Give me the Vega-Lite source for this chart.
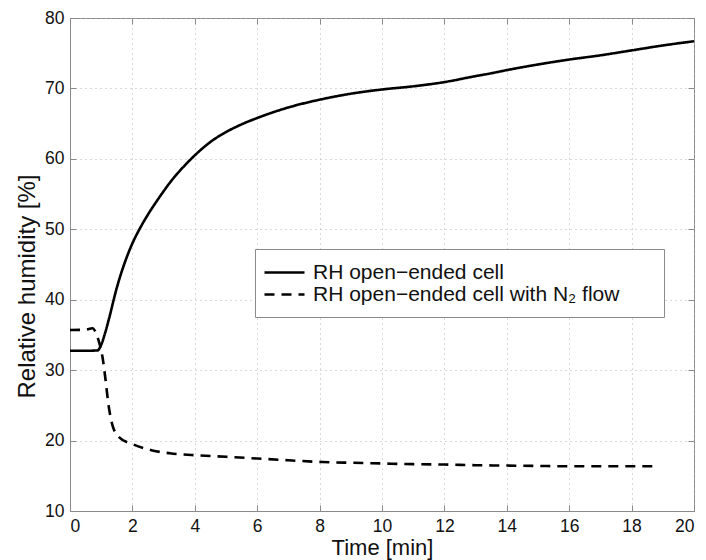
{
  "$schema": "https://vega.github.io/schema/vega-lite/v6.json",
  "width": 624,
  "height": 493,
  "autosize": "none",
  "padding": {"left": 70, "top": 18, "right": 12, "bottom": 49},
  "background": "white",
  "config": {
    "font": "Liberation Sans",
    "view": {"stroke": "#8a8a8a", "strokeWidth": 1},
    "axis": {
      "labelFont": "Liberation Sans",
      "titleFont": "Liberation Sans",
      "labelFontSize": 17.5,
      "titleFontSize": 22,
      "titleFontWeight": "normal",
      "labelColor": "#111",
      "titleColor": "#111",
      "domainColor": "#8a8a8a",
      "tickColor": "#8a8a8a",
      "tickSize": -6,
      "labelPadding": 12,
      "gridColor": "#b5b5b5",
      "gridDash": [1, 4],
      "gridWidth": 1
    }
  },
  "datasets": {
    "rh": [
      {"t": 0, "rh": 32.75, "series": "RH open−ended cell"},
      {"t": 0.5, "rh": 32.75, "series": "RH open−ended cell"},
      {"t": 0.88, "rh": 32.8, "series": "RH open−ended cell"},
      {"t": 1.0, "rh": 33.6, "series": "RH open−ended cell"},
      {"t": 1.12, "rh": 35.2, "series": "RH open−ended cell"},
      {"t": 1.25, "rh": 37.3, "series": "RH open−ended cell"},
      {"t": 1.5, "rh": 41.7, "series": "RH open−ended cell"},
      {"t": 1.75, "rh": 45.2, "series": "RH open−ended cell"},
      {"t": 2.0, "rh": 48.0, "series": "RH open−ended cell"},
      {"t": 2.25, "rh": 50.2, "series": "RH open−ended cell"},
      {"t": 2.5, "rh": 52.1, "series": "RH open−ended cell"},
      {"t": 2.75, "rh": 53.8, "series": "RH open−ended cell"},
      {"t": 3.0, "rh": 55.4, "series": "RH open−ended cell"},
      {"t": 3.25, "rh": 56.9, "series": "RH open−ended cell"},
      {"t": 3.5, "rh": 58.2, "series": "RH open−ended cell"},
      {"t": 3.75, "rh": 59.4, "series": "RH open−ended cell"},
      {"t": 4.0, "rh": 60.5, "series": "RH open−ended cell"},
      {"t": 4.25, "rh": 61.5, "series": "RH open−ended cell"},
      {"t": 4.5, "rh": 62.4, "series": "RH open−ended cell"},
      {"t": 5.0, "rh": 63.8, "series": "RH open−ended cell"},
      {"t": 5.5, "rh": 64.9, "series": "RH open−ended cell"},
      {"t": 6.0, "rh": 65.8, "series": "RH open−ended cell"},
      {"t": 7.0, "rh": 67.3, "series": "RH open−ended cell"},
      {"t": 8.0, "rh": 68.4, "series": "RH open−ended cell"},
      {"t": 9.0, "rh": 69.25, "series": "RH open−ended cell"},
      {"t": 10.0, "rh": 69.85, "series": "RH open−ended cell"},
      {"t": 11.0, "rh": 70.3, "series": "RH open−ended cell"},
      {"t": 12.0, "rh": 70.9, "series": "RH open−ended cell"},
      {"t": 13.0, "rh": 71.75, "series": "RH open−ended cell"},
      {"t": 13.5, "rh": 72.15, "series": "RH open−ended cell"},
      {"t": 14.0, "rh": 72.6, "series": "RH open−ended cell"},
      {"t": 15.0, "rh": 73.4, "series": "RH open−ended cell"},
      {"t": 16.0, "rh": 74.1, "series": "RH open−ended cell"},
      {"t": 17.0, "rh": 74.7, "series": "RH open−ended cell"},
      {"t": 18.0, "rh": 75.4, "series": "RH open−ended cell"},
      {"t": 19.0, "rh": 76.1, "series": "RH open−ended cell"},
      {"t": 20.0, "rh": 76.7, "series": "RH open−ended cell"},
      {"t": 0, "rh": 35.7, "series": "RH open−ended cell with N₂ flow"},
      {"t": 0.5, "rh": 35.75, "series": "RH open−ended cell with N₂ flow"},
      {"t": 0.72, "rh": 35.95, "series": "RH open−ended cell with N₂ flow"},
      {"t": 0.82, "rh": 35.4, "series": "RH open−ended cell with N₂ flow"},
      {"t": 0.93, "rh": 34.0, "series": "RH open−ended cell with N₂ flow"},
      {"t": 1.04, "rh": 31.9, "series": "RH open−ended cell with N₂ flow"},
      {"t": 1.14, "rh": 28.6, "series": "RH open−ended cell with N₂ flow"},
      {"t": 1.23, "rh": 25.2, "series": "RH open−ended cell with N₂ flow"},
      {"t": 1.36, "rh": 22.2, "series": "RH open−ended cell with N₂ flow"},
      {"t": 1.57, "rh": 20.5, "series": "RH open−ended cell with N₂ flow"},
      {"t": 2.0, "rh": 19.5, "series": "RH open−ended cell with N₂ flow"},
      {"t": 2.64, "rh": 18.6, "series": "RH open−ended cell with N₂ flow"},
      {"t": 3.2, "rh": 18.2, "series": "RH open−ended cell with N₂ flow"},
      {"t": 4.1, "rh": 17.9, "series": "RH open−ended cell with N₂ flow"},
      {"t": 5.0, "rh": 17.7, "series": "RH open−ended cell with N₂ flow"},
      {"t": 6.0, "rh": 17.45, "series": "RH open−ended cell with N₂ flow"},
      {"t": 7.0, "rh": 17.2, "series": "RH open−ended cell with N₂ flow"},
      {"t": 8.1, "rh": 16.95, "series": "RH open−ended cell with N₂ flow"},
      {"t": 9.0, "rh": 16.85, "series": "RH open−ended cell with N₂ flow"},
      {"t": 10.0, "rh": 16.75, "series": "RH open−ended cell with N₂ flow"},
      {"t": 11.0, "rh": 16.65, "series": "RH open−ended cell with N₂ flow"},
      {"t": 12.0, "rh": 16.6, "series": "RH open−ended cell with N₂ flow"},
      {"t": 13.0, "rh": 16.5, "series": "RH open−ended cell with N₂ flow"},
      {"t": 14.0, "rh": 16.45, "series": "RH open−ended cell with N₂ flow"},
      {"t": 15.0, "rh": 16.4, "series": "RH open−ended cell with N₂ flow"},
      {"t": 16.0, "rh": 16.35, "series": "RH open−ended cell with N₂ flow"},
      {"t": 17.0, "rh": 16.35, "series": "RH open−ended cell with N₂ flow"},
      {"t": 18.0, "rh": 16.35, "series": "RH open−ended cell with N₂ flow"},
      {"t": 18.7, "rh": 16.35, "series": "RH open−ended cell with N₂ flow"}
    ]
  },
  "data": {"name": "rh"},
  "layer": [
    {
      "mark": {"type": "line", "color": "black", "strokeWidth": 2.6, "interpolate": "monotone"},
      "encoding": {
        "x": {
          "field": "t", "type": "quantitative",
          "scale": {"domain": [0, 20], "nice": false, "zero": false},
          "axis": {"title": "Time [min]", "values": [0,2,4,6,8,10,12,14,16,18,20], "titlePadding": 3}
        },
        "y": {
          "field": "rh", "type": "quantitative",
          "scale": {"domain": [10, 80], "nice": false, "zero": false},
          "axis": {"title": "Relative humidity [%]", "values": [10,20,30,40,50,60,70,80], "titleFontSize": 24, "titleY": 268, "titleX": -31}
        },
        "strokeDash": {
          "field": "series", "type": "nominal",
          "scale": {
            "domain": ["RH open−ended cell", "RH open−ended cell with N₂ flow"],
            "range": [[1, 0], [10, 7]]
          },
          "legend": {
            "title": " ",
            "titleOrient": "right",
            "titleFontSize": 4,
            "titlePadding": 33,
            "orient": "none",
            "legendX": 185,
            "legendY": 231,
            "fillColor": "white",
            "strokeColor": "#8a8a8a",
            "padding": 12,
            "symbolType": "M-1.4,0H2.6",
            "symbolSize": 400,
            "symbolStrokeColor": "black",
            "symbolStrokeWidth": 2.6,
            "labelFont": "Liberation Sans",
            "labelFontSize": 21,
            "labelColor": "#111",
            "labelLimit": 500,
            "labelOffset": 23,
            "rowPadding": -1
          }
        }
      }
    },
    {
      "mark": {"type": "line", "opacity": 0},
      "encoding": {
        "x": {
          "field": "t", "type": "quantitative",
          "scale": {"domain": [0, 20], "nice": false, "zero": false},
          "axis": {"orient": "top", "title": null, "labels": false, "grid": false, "domain": false, "values": [0,2,4,6,8,10,12,14,16,18,20]}
        },
        "y": {
          "field": "rh", "type": "quantitative",
          "scale": {"domain": [10, 80], "nice": false, "zero": false},
          "axis": {"orient": "right", "title": null, "labels": false, "grid": false, "domain": false, "values": [10,20,30,40,50,60,70,80]}
        }
      }
    }
  ],
  "resolve": {"scale": {"x": "independent", "y": "independent"}}
}
